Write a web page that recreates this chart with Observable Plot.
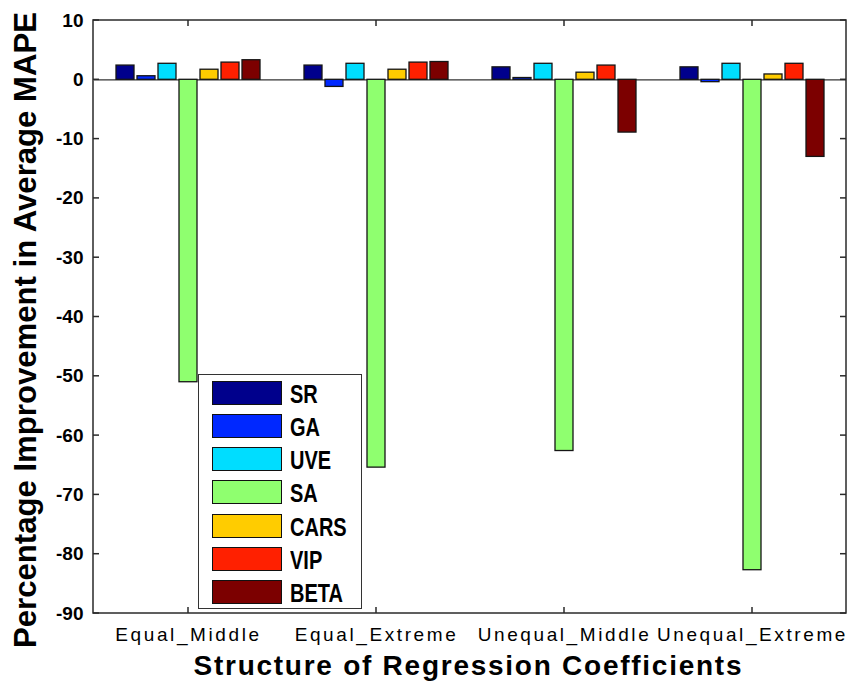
<!DOCTYPE html>
<html>
<head>
<meta charset="utf-8">
<script src="https://cdn.jsdelivr.net/npm/d3@7"></script>
<script src="https://cdn.jsdelivr.net/npm/@observablehq/plot@0.6"></script>
<style>
  html, body { margin: 0; padding: 0; background: #fff; }
  #wrap { position: relative; width: 849px; height: 690px; }
  #legend { position: absolute; left: 198px; top: 374px; width: 164px; height: 235px;
    box-sizing: border-box; border: 1.5px solid #333; background: #fff; }
  .sw { position: absolute; left: 13px; width: 70px; height: 24px; box-sizing: border-box; border: 1.5px solid #111; }
  .lt { position: absolute; left: 91px; height: 24px; line-height: 24px; white-space: nowrap;
    font-family: "Liberation Sans", Arial, sans-serif; font-weight: bold; font-size: 25px; color: #000;
    transform: scaleX(0.8); transform-origin: 0 50%; }
</style>
</head>
<body>
<div id="wrap"></div>
<script>
const groups = ["Equal_Middle", "Equal_Extreme", "Unequal_Middle", "Unequal_Extreme"];
const methods = ["SR", "GA", "UVE", "SA", "CARS", "VIP", "BETA"];
const colors = ["#00008c", "#0028ff", "#00ddff", "#8fff6f", "#ffcc00", "#ff2000", "#7c0000"];

const SR   = [2.4, 2.4, 2.1, 2.1];
const GA   = [0.6, -1.2, 0.3, -0.4];
const UVE  = [2.7, 2.7, 2.7, 2.7];
const SA   = [-51.0, -65.4, -62.6, -82.7];
const CARS = [1.7, 1.7, 1.2, 0.9];
const VIP  = [2.9, 2.9, 2.4, 2.7];
const BETA = [3.3, 3.0, -8.9, -13.0];

const yTicks = [10, 0, -10, -20, -30, -40, -50, -60, -70, -80, -90];
const yTitle = "Percentage Improvement in Average MAPE";
const xTitle = "Structure of Regression Coefficients";

const series = [SR, GA, UVE, SA, CARS, VIP, BETA];
const rows = methods.flatMap((m, i) => groups.map((g, j) => ({group: g, method: m, value: series[i][j]})));

const plot = Plot.plot({
  width: 849,
  height: 690,
  marginLeft: 93,
  marginRight: 3,
  marginTop: 20,
  marginBottom: 77,
  style: {fontFamily: "'Liberation Sans', Arial, sans-serif", background: "#fff", color: "#000"},
  fx: {domain: groups, padding: 0},
  x: {domain: methods, paddingInner: 0.16, paddingOuter: 0.96, axis: null},
  y: {domain: [-90, 10]},
  color: {domain: methods, range: colors},
  marks: [
    Plot.ruleY([0], {stroke: "#333", strokeWidth: 1.2}),
    Plot.barY(rows, {fx: "group", x: "method", y: "value", fill: "method", stroke: "#151515", strokeWidth: 1.3}),
    Plot.axisY({anchor: "left", ticks: yTicks, tickFormat: d => `${d}`, tickSize: 0, tickPadding: 11, label: null,
      fontSize: 19, fontWeight: "bold"}),
    Plot.axisFx({anchor: "bottom", tickSize: 0, tickPadding: 14, label: null, fontSize: 19})
  ]
});

document.getElementById("wrap").appendChild(plot);

// decorations: frame, inward ticks, titles
const svg = d3.select(plot);
svg.selectAll('g[aria-label="fx-axis tick label"] text').style("letter-spacing", "2.6px");
const fx = plot.scale("fx");
const y = plot.scale("y");
const x0 = fx.range[0], x1 = fx.range[1];
const yTop = y.apply(10), yBot = y.apply(-90);
const deco = svg.append("g").attr("stroke", "#2a2a2a").attr("stroke-width", 1.5).attr("fill", "none");
deco.append("rect").attr("x", x0).attr("y", yTop).attr("width", x1 - x0).attr("height", yBot - yTop);
yTicks.forEach(t => {
  const yy = y.apply(t);
  deco.append("line").attr("x1", x0).attr("x2", x0 + 6).attr("y1", yy).attr("y2", yy);
  deco.append("line").attr("x1", x1).attr("x2", x1 - 6).attr("y1", yy).attr("y2", yy);
});
groups.forEach(g => {
  const xx = fx.apply(g) + fx.bandwidth / 2;
  deco.append("line").attr("x1", xx).attr("x2", xx).attr("y1", yBot).attr("y2", yBot - 6);
  deco.append("line").attr("x1", xx).attr("x2", xx).attr("y1", yTop).attr("y2", yTop + 6);
});
svg.append("text")
  .attr("transform", `translate(36,330) rotate(-90)`)
  .attr("text-anchor", "middle")
  .attr("font-size", 31).attr("font-weight", "bold")
  .attr("textLength", 636).attr("lengthAdjust", "spacingAndGlyphs")
  .text(yTitle);
svg.append("text")
  .attr("x", (x0 + x1) / 2 - 2).attr("y", 675)
  .attr("text-anchor", "middle")
  .attr("font-size", 28).attr("font-weight", "bold")
  .attr("textLength", 548).attr("lengthAdjust", "spacing")
  .text(xTitle);

// legend
const legend = d3.select("#wrap").append("div").attr("id", "legend");
methods.forEach((m, i) => {
  const top = 5.5 + i * 33.3;
  legend.append("div").attr("class", "sw").style("top", top + "px").style("background", colors[i]);
  legend.append("div").attr("class", "lt").style("top", (top + 1) + "px").text(m);
});
</script>
</body>
</html>
